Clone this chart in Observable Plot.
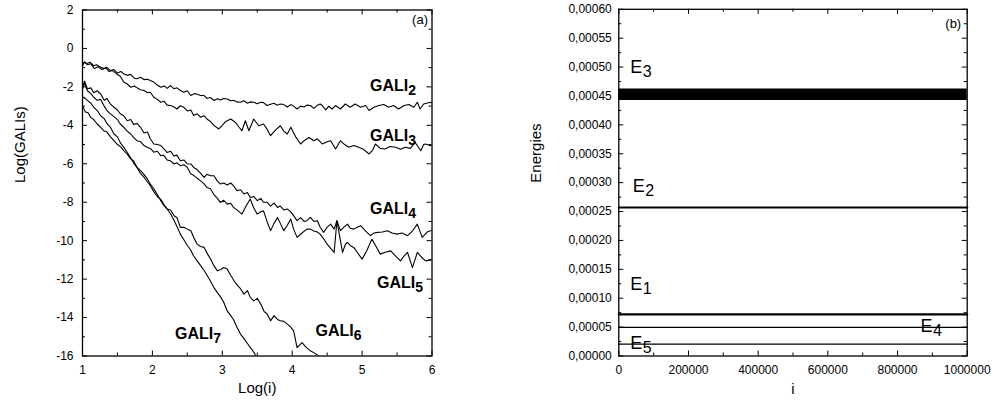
<!DOCTYPE html>
<html><head><meta charset="utf-8">
<script src="https://cdn.jsdelivr.net/npm/d3@7"></script>
<script src="https://cdn.jsdelivr.net/npm/@observablehq/plot@0.6"></script>
<style>
body{margin:0;background:#fff;}
#wrap{position:relative;width:993px;height:402px;overflow:hidden;background:#fff;}
#left{position:absolute;left:0;top:0;}
#right{position:absolute;left:500px;top:0;}
</style></head><body><div id="wrap"><div id="left"></div><div id="right"></div></div>
<script>
// ---------- Panel (a) data: Log(i) vs Log(GALI_k) ----------
const gali2 = [[1.00,-0.85],[1.02,-0.72],[1.06,-0.78],[1.11,-0.72],[1.16,-0.90],[1.20,-0.85],[1.26,-0.98],[1.31,-1.05],[1.35,-0.98],[1.40,-1.15],[1.45,-1.10],[1.50,-1.28],[1.55,-1.20],[1.59,-1.32],[1.64,-1.40],[1.69,-1.35],[1.74,-1.55],[1.78,-1.58],[1.83,-1.50],[1.88,-1.62],[1.93,-1.60],[1.97,-1.67],[2.02,-1.75],[2.07,-1.90],[2.12,-2.02],[2.17,-1.95],[2.21,-2.08],[2.26,-1.93],[2.31,-2.10],[2.35,-2.05],[2.40,-2.19],[2.45,-2.28],[2.50,-2.20],[2.55,-2.45],[2.60,-2.35],[2.64,-2.38],[2.69,-2.45],[2.74,-2.45],[2.78,-2.60],[2.83,-2.55],[2.88,-2.71],[2.93,-2.62],[2.97,-2.68],[3.02,-2.60],[3.07,-2.63],[3.12,-2.72],[3.16,-2.70],[3.21,-2.78],[3.26,-2.80],[3.31,-2.72],[3.36,-2.85],[3.40,-2.78],[3.45,-2.80],[3.50,-2.88],[3.55,-2.80],[3.59,-2.82],[3.64,-2.97],[3.69,-2.90],[3.74,-2.85],[3.78,-2.95],[3.83,-2.89],[3.88,-2.92],[3.93,-3.05],[3.98,-2.92],[4.02,-3.00],[4.07,-3.15],[4.12,-3.00],[4.17,-3.05],[4.21,-2.95],[4.26,-2.97],[4.31,-3.12],[4.36,-2.95],[4.40,-2.89],[4.43,-2.97],[4.48,-3.20],[4.52,-3.01],[4.57,-3.15],[4.62,-2.97],[4.69,-3.15],[4.76,-2.89],[4.83,-3.06],[4.90,-2.89],[4.98,-3.06],[5.05,-2.97],[5.10,-3.23],[5.17,-3.06],[5.24,-2.97],[5.31,-2.92],[5.38,-3.06],[5.45,-2.97],[5.52,-3.15],[5.60,-2.97],[5.67,-2.92],[5.74,-3.06],[5.79,-2.80],[5.83,-3.15],[5.88,-2.89],[5.98,-2.80],[6.00,-2.85]];
const gali3 = [[1.00,-0.90],[1.03,-0.70],[1.07,-0.85],[1.12,-0.80],[1.17,-1.05],[1.22,-0.95],[1.28,-1.10],[1.33,-1.00],[1.38,-1.20],[1.43,-1.15],[1.48,-1.30],[1.54,-1.45],[1.59,-1.75],[1.64,-1.85],[1.69,-2.02],[1.74,-1.95],[1.78,-2.05],[1.83,-2.15],[1.88,-2.19],[1.93,-2.30],[1.97,-2.28],[2.02,-2.54],[2.07,-2.65],[2.12,-2.80],[2.17,-2.75],[2.21,-2.95],[2.26,-2.97],[2.31,-3.05],[2.35,-3.15],[2.40,-2.98],[2.45,-3.06],[2.50,-3.25],[2.55,-3.20],[2.59,-3.49],[2.64,-3.40],[2.69,-3.58],[2.74,-3.50],[2.78,-3.67],[2.83,-3.80],[2.88,-4.00],[2.95,-4.19],[3.00,-4.00],[3.05,-3.80],[3.12,-3.67],[3.19,-3.85],[3.24,-4.10],[3.28,-4.28],[3.33,-3.76],[3.38,-4.28],[3.45,-3.67],[3.52,-4.02],[3.59,-3.93],[3.64,-4.20],[3.69,-4.54],[3.76,-4.25],[3.83,-4.02],[3.88,-4.30],[3.93,-4.45],[3.98,-4.10],[4.05,-4.60],[4.12,-4.97],[4.17,-4.80],[4.24,-4.63],[4.31,-4.80],[4.36,-4.70],[4.43,-4.97],[4.50,-4.85],[4.55,-4.80],[4.62,-5.23],[4.69,-4.80],[4.75,-5.00],[4.81,-5.14],[4.88,-5.05],[4.95,-5.14],[5.02,-5.25],[5.10,-5.49],[5.15,-5.30],[5.19,-4.97],[5.26,-5.20],[5.33,-5.23],[5.40,-5.10],[5.48,-5.14],[5.55,-5.25],[5.62,-5.14],[5.69,-5.20],[5.76,-4.89],[5.84,-5.32],[5.88,-5.00],[5.91,-4.97],[5.98,-5.06],[6.00,-5.05]];
const gali4 = [[1.00,-1.95],[1.03,-1.70],[1.07,-2.10],[1.12,-2.05],[1.16,-2.30],[1.21,-2.20],[1.26,-2.37],[1.31,-2.70],[1.35,-2.60],[1.40,-2.90],[1.45,-3.06],[1.50,-3.20],[1.54,-3.40],[1.59,-3.50],[1.64,-3.76],[1.69,-3.70],[1.73,-3.95],[1.78,-3.90],[1.83,-4.10],[1.88,-4.40],[1.93,-4.35],[1.97,-4.70],[2.02,-4.97],[2.07,-5.00],[2.12,-5.05],[2.16,-5.20],[2.21,-5.41],[2.26,-5.35],[2.31,-5.60],[2.35,-5.55],[2.40,-5.84],[2.45,-5.80],[2.50,-6.00],[2.55,-6.01],[2.59,-6.19],[2.64,-6.30],[2.69,-6.50],[2.74,-6.71],[2.78,-6.55],[2.83,-6.62],[2.88,-6.62],[2.93,-6.90],[2.97,-7.05],[3.02,-7.00],[3.07,-7.10],[3.12,-7.00],[3.16,-7.14],[3.21,-7.40],[3.26,-7.35],[3.31,-7.57],[3.36,-7.50],[3.40,-7.75],[3.45,-7.70],[3.50,-7.92],[3.55,-7.80],[3.59,-8.00],[3.64,-8.00],[3.69,-8.20],[3.74,-8.05],[3.79,-8.27],[3.83,-8.20],[3.88,-8.40],[3.93,-8.35],[3.98,-8.50],[4.02,-8.70],[4.07,-8.96],[4.12,-8.80],[4.17,-9.00],[4.21,-8.96],[4.26,-8.79],[4.31,-9.00],[4.36,-8.96],[4.40,-9.30],[4.45,-9.57],[4.50,-9.30],[4.55,-9.14],[4.60,-9.40],[4.64,-8.96],[4.69,-9.48],[4.74,-9.30],[4.79,-9.14],[4.83,-9.35],[4.88,-9.40],[4.93,-9.30],[4.98,-9.22],[5.05,-9.50],[5.12,-9.74],[5.17,-9.60],[5.22,-9.57],[5.29,-9.55],[5.36,-9.48],[5.43,-9.60],[5.50,-9.66],[5.57,-9.60],[5.65,-9.74],[5.72,-9.50],[5.79,-9.14],[5.86,-9.83],[5.93,-9.55],[5.98,-9.48],[6.00,-9.45]];
const gali5 = [[1.00,-2.10],[1.03,-1.80],[1.07,-2.20],[1.12,-2.35],[1.16,-2.54],[1.21,-2.70],[1.26,-2.65],[1.31,-3.00],[1.35,-3.23],[1.40,-3.40],[1.45,-3.55],[1.50,-3.70],[1.54,-3.93],[1.59,-4.10],[1.64,-4.30],[1.69,-4.45],[1.73,-4.63],[1.78,-4.80],[1.83,-4.85],[1.88,-5.05],[1.93,-5.15],[1.97,-5.20],[2.02,-5.40],[2.07,-5.35],[2.12,-5.58],[2.16,-5.55],[2.21,-5.80],[2.26,-5.85],[2.31,-6.01],[2.35,-5.95],[2.40,-6.10],[2.45,-6.05],[2.50,-6.19],[2.55,-6.53],[2.59,-6.60],[2.64,-6.75],[2.69,-6.89],[2.74,-7.05],[2.78,-7.23],[2.83,-7.30],[2.88,-7.60],[2.93,-7.80],[2.97,-8.01],[3.02,-7.90],[3.07,-8.10],[3.12,-8.05],[3.16,-8.27],[3.21,-8.40],[3.28,-8.62],[3.34,-8.20],[3.40,-7.83],[3.45,-8.30],[3.50,-8.62],[3.55,-8.50],[3.59,-8.45],[3.64,-9.00],[3.69,-9.48],[3.74,-9.10],[3.79,-8.79],[3.83,-9.10],[3.88,-9.48],[3.93,-9.20],[3.98,-8.88],[4.02,-9.40],[4.07,-9.83],[4.14,-9.60],[4.21,-9.40],[4.26,-9.40],[4.31,-9.50],[4.36,-9.55],[4.40,-9.66],[4.45,-9.90],[4.50,-10.18],[4.55,-10.40],[4.60,-10.61],[4.64,-8.96],[4.68,-9.80],[4.72,-10.61],[4.76,-10.20],[4.79,-10.09],[4.83,-10.25],[4.88,-10.35],[4.93,-10.60],[5.00,-10.96],[5.07,-10.50],[5.14,-9.92],[5.20,-10.30],[5.26,-10.70],[5.33,-10.60],[5.41,-10.53],[5.48,-10.80],[5.55,-11.05],[5.60,-10.80],[5.65,-10.61],[5.72,-11.40],[5.79,-10.61],[5.86,-10.90],[5.91,-11.05],[5.98,-11.00],[6.00,-11.00]];
const gali6 = [[1.00,-2.60],[1.02,-2.54],[1.07,-2.70],[1.12,-2.85],[1.16,-3.05],[1.21,-3.23],[1.26,-3.50],[1.31,-3.65],[1.35,-3.90],[1.40,-4.10],[1.45,-4.45],[1.50,-4.60],[1.54,-4.90],[1.59,-5.15],[1.64,-5.40],[1.69,-5.70],[1.73,-5.95],[1.78,-6.19],[1.83,-6.50],[1.88,-6.70],[1.93,-6.95],[1.97,-7.14],[2.02,-7.45],[2.07,-7.70],[2.12,-7.85],[2.16,-8.10],[2.21,-8.35],[2.26,-8.40],[2.31,-8.70],[2.35,-8.79],[2.40,-9.31],[2.45,-9.30],[2.50,-9.40],[2.55,-9.48],[2.60,-9.90],[2.64,-10.18],[2.69,-10.30],[2.74,-10.35],[2.79,-10.70],[2.84,-11.00],[2.88,-11.30],[2.93,-11.57],[2.98,-11.50],[3.02,-11.40],[3.07,-11.48],[3.12,-11.80],[3.17,-12.10],[3.21,-12.30],[3.26,-12.50],[3.31,-12.78],[3.36,-12.60],[3.40,-12.95],[3.45,-13.13],[3.50,-13.00],[3.55,-13.30],[3.60,-13.70],[3.64,-13.80],[3.69,-14.17],[3.74,-13.90],[3.79,-14.10],[3.83,-14.17],[3.88,-14.20],[3.93,-14.34],[3.98,-14.50],[4.02,-14.69],[4.07,-15.56],[4.14,-15.30],[4.20,-15.55],[4.26,-15.73],[4.32,-15.85],[4.38,-16.00]];
const gali7 = [[1.00,-3.00],[1.04,-3.30],[1.08,-3.35],[1.12,-3.60],[1.16,-3.70],[1.21,-3.93],[1.26,-4.10],[1.31,-4.30],[1.35,-4.35],[1.40,-4.60],[1.45,-4.80],[1.50,-5.00],[1.54,-5.10],[1.59,-5.32],[1.64,-5.50],[1.69,-5.75],[1.73,-5.84],[1.78,-6.19],[1.83,-6.36],[1.88,-6.55],[1.93,-6.80],[1.97,-7.05],[2.02,-7.30],[2.07,-7.60],[2.12,-7.92],[2.16,-8.15],[2.21,-8.35],[2.26,-8.60],[2.31,-8.95],[2.35,-9.25],[2.40,-9.66],[2.45,-9.95],[2.50,-10.25],[2.55,-10.50],[2.59,-10.80],[2.64,-11.05],[2.69,-11.30],[2.74,-11.55],[2.79,-11.85],[2.83,-12.10],[2.88,-12.44],[2.93,-12.70],[2.98,-12.95],[3.02,-13.20],[3.07,-13.65],[3.12,-13.90],[3.16,-14.10],[3.21,-14.50],[3.26,-14.86],[3.31,-15.10],[3.36,-15.35],[3.40,-15.55],[3.45,-15.80],[3.48,-16.00]];

const galiSeries = ["GALI2","GALI3","GALI4","GALI5","GALI6","GALI7"];
const galiLabelBase = ["GALI","GALI","GALI","GALI","GALI","GALI"];
const galiLabelSub = ["2","3","4","5","6","7"];
const galiLabelX = [5.66, 5.66, 5.66, 5.76, 4.88, 2.87];
const galiLabelY = [-2.19, -4.80, -8.62, -12.44, -14.95, -15.13];

const aXTicks = [1,2,3,4,5,6];
const aXMinor = [1.5,2.5,3.5,4.5,5.5];
const aYTicks = [-16,-14,-12,-10,-8,-6,-4,-2,0,2];
const aYMinor = [-15,-13,-11,-9,-7,-5,-3,-1,1];

// ---------- Panel (b) data: energies vs i ----------
const iRange = [0, 1000000];
const e3Low = 0.000442, e3High = 0.000462;
const e2 = 0.000257;
const e1 = 0.0000722;
const e4 = 0.0000496;
const e5 = 0.0000205;
const energyLabelBase = ["E","E","E","E","E"];
const energyLabelSub = ["3","2","1","4","5"];
const energyLabelX = [33000, 40000, 33000, 866000, 33000];
const energyLabelY = [0.000489, 0.000283, 0.0001135, 0.0000415, 0.0000128];

const bXTicks = [0,200000,400000,600000,800000,1000000];
const bXMinor = [100000,300000,500000,700000,900000];
const bYTicks = [0,0.00005,0.0001,0.00015,0.0002,0.00025,0.0003,0.00035,0.0004,0.00045,0.0005,0.00055,0.0006];
const bYMinor = [0.000025,0.000075,0.000125,0.000175,0.000225,0.000275,0.000325,0.000375,0.000425,0.000475,0.000525,0.000575];

// ---------- helpers ----------
const FONT = "'Liberation Sans', Arial, Helvetica, sans-serif";
function frameTicks(xMaj, xMin, yMaj, yMin, fw, fh) {
  const M = 5, m = 3;
  return [
    Plot.ruleX(xMaj, {x: d => d, insetBottom: fh - M, stroke: "black"}),
    Plot.ruleX(xMaj, {x: d => d, insetTop: fh - M, stroke: "black"}),
    Plot.ruleX(xMin, {x: d => d, insetBottom: fh - m, stroke: "black"}),
    Plot.ruleX(xMin, {x: d => d, insetTop: fh - m, stroke: "black"}),
    Plot.ruleY(yMaj, {y: d => d, insetRight: fw - M, stroke: "black"}),
    Plot.ruleY(yMaj, {y: d => d, insetLeft: fw - M, stroke: "black"}),
    Plot.ruleY(yMin, {y: d => d, insetRight: fw - m, stroke: "black"}),
    Plot.ruleY(yMin, {y: d => d, insetLeft: fw - m, stroke: "black"})
  ];
}

// ---------- panel (a) ----------
const galiRows = [];
[gali2, gali3, gali4, gali5, gali6, gali7].forEach((arr, k) =>
  arr.forEach(([x, y]) => galiRows.push({series: galiSeries[k], x, y})));
const galiLabels = galiSeries.map((s, k) => ({base: galiLabelBase[k], sub: galiLabelSub[k], x: galiLabelX[k], y: galiLabelY[k]}));

const AW = 470, AH = 402, AML = 82, AMR = 38.5, AMT = 9.5, AMB = 46.5;
const plotA = Plot.plot({
  width: AW, height: AH,
  marginLeft: AML, marginRight: AMR, marginTop: AMT, marginBottom: AMB,
  style: {fontFamily: FONT, fontSize: "12px", color: "black", background: "white", overflow: "visible"},
  x: {domain: [1, 6]},
  y: {domain: [-16, 2]},
  marks: [
    Plot.line(galiRows, {x: "x", y: "y", z: "series", stroke: "black", strokeWidth: 1.1, clip: true}),
    Plot.frame({stroke: "black", strokeWidth: 1.3}),
    ...frameTicks(aXTicks, aXMinor, aYTicks, aYMinor, AW - AML - AMR, AH - AMT - AMB),
    Plot.axisX({ticks: aXTicks, tickSize: 0, tickPadding: 9, label: null, tickFormat: d => String(d), fontSize: 12}),
    Plot.axisY({ticks: aYTicks, tickSize: 0, tickPadding: 9, label: null, tickFormat: d => String(d), fontSize: 12}),
    Plot.text(["Log(i)"], {frameAnchor: "bottom", dy: 36.5, lineAnchor: "bottom", fontSize: 15}),
    Plot.text(["Log(GALIs)"], {frameAnchor: "left", dx: -58, rotate: -90, lineAnchor: "bottom", fontSize: 15}),
    Plot.text(["(a)"], {frameAnchor: "top-right", dx: -4, dy: 5, lineAnchor: "top", textAnchor: "end", fontSize: 13}),
    Plot.text(galiLabels, {x: "x", y: "y", text: "base", textAnchor: "end", lineAnchor: "bottom", fontWeight: "bold", fontSize: 16}),
    Plot.text(galiLabels, {x: "x", y: "y", text: "sub", textAnchor: "start", lineAnchor: "bottom", dy: 4, fontWeight: "bold", fontSize: 14})
  ]
});
document.getElementById("left").appendChild(plotA);

// ---------- panel (b) ----------
const bandRows = iRange.map(i => ({i, lo: e3Low, hi: e3High}));
const energyLines = [
  {name: "E2", e: e2, w: 2.2},
  {name: "E1", e: e1, w: 2.2},
  {name: "E4", e: e4, w: 1.1},
  {name: "E5", e: e5, w: 1.3}
];
const energyRows = [];
energyLines.forEach(l => iRange.forEach(i => energyRows.push({name: l.name, i, e: l.e, w: l.w})));
const energyLabels = energyLabelBase.map((b, k) => ({base: b, sub: energyLabelSub[k], x: energyLabelX[k], y: energyLabelY[k]}));

const BW = 493, BH = 402, BML = 118.3, BMR = 26.3, BMT = 8.8, BMB = 46.5;
const fmtE = d => d3.format(".5f")(d).replace(".", ",");
const plotB = Plot.plot({
  width: BW, height: BH,
  marginLeft: BML, marginRight: BMR, marginTop: BMT, marginBottom: BMB,
  style: {fontFamily: FONT, fontSize: "12px", color: "black", background: "white", overflow: "visible"},
  x: {domain: [0, 1000000]},
  y: {domain: [0, 0.0006]},
  marks: [
    Plot.areaY(bandRows, {x: "i", y1: "lo", y2: "hi", fill: "black"}),
    ...energyLines.map(l => Plot.line(energyRows.filter(r => r.name === l.name), {x: "i", y: "e", stroke: "black", strokeWidth: l.w})),
    Plot.frame({stroke: "black", strokeWidth: 1.3}),
    ...frameTicks(bXTicks, bXMinor, bYTicks, bYMinor, BW - BML - BMR, BH - BMT - BMB),
    Plot.axisX({ticks: bXTicks, tickSize: 0, tickPadding: 9, label: null, tickFormat: d => String(d), fontSize: 12}),
    Plot.axisY({ticks: bYTicks, tickSize: 0, tickPadding: 7, label: null, tickFormat: fmtE, fontSize: 12}),
    Plot.text(["i"], {frameAnchor: "bottom", dy: 37.5, lineAnchor: "bottom", fontSize: 15}),
    Plot.text(["Energies"], {frameAnchor: "left", dx: -78, rotate: -90, lineAnchor: "bottom", fontSize: 15}),
    Plot.text(["(b)"], {frameAnchor: "top-right", dx: -6, dy: 9, lineAnchor: "top", textAnchor: "end", fontSize: 13}),
    Plot.text(energyLabels, {x: "x", y: "y", text: "base", textAnchor: "start", lineAnchor: "bottom", fontSize: 18}),
    Plot.text(energyLabels, {x: "x", y: "y", text: "sub", textAnchor: "start", lineAnchor: "bottom", dx: 12.5, dy: 4, fontSize: 16})
  ]
});
document.getElementById("right").appendChild(plotB);
</script>
</body></html>
